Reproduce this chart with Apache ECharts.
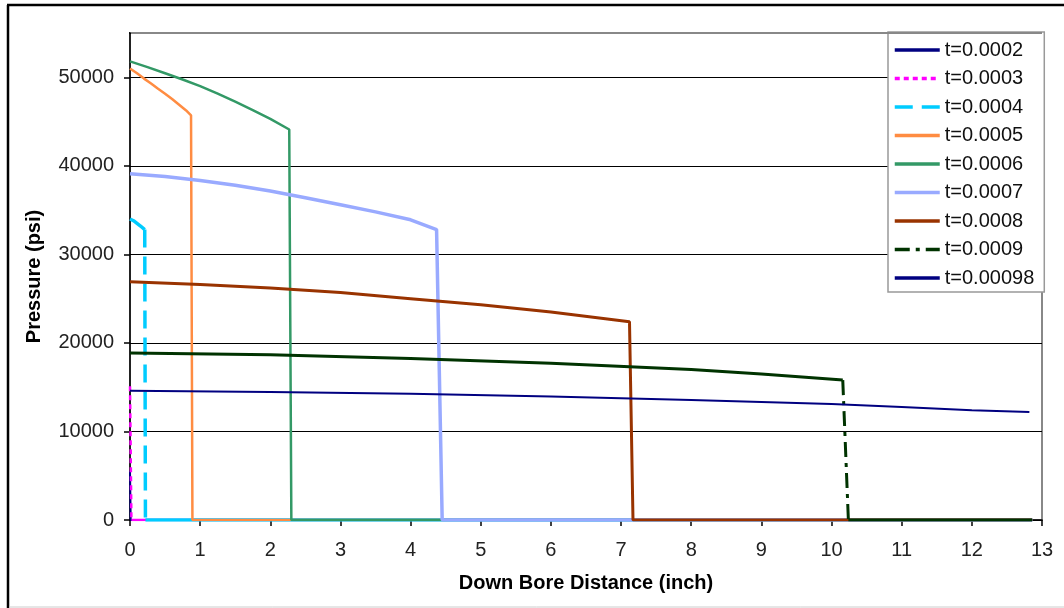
<!DOCTYPE html>
<html>
<head>
<meta charset="utf-8">
<script src="https://cdn.jsdelivr.net/npm/echarts@6/dist/echarts.min.js"></script>
<style>html,body{margin:0;padding:0;background:#fff;}#c{width:1064px;height:608px;}</style>
</head>
<body>
<div id="c"></div>
<script>
// Series names (legend labels)
const seriesNames = ['t=0.0002','t=0.0003','t=0.0004','t=0.0005','t=0.0006','t=0.0007','t=0.0008','t=0.0009','t=0.00098'];

// Each series: [distance (inch), pressure (psi)]
const t0002 = [[0,5500],[0.01,0],[12.86,0]];
const t0003 = [[0,15100],[0.02,0],[12.86,0]];
const t0004 = [[0,34000],[0.05,33800],[0.1,33500],[0.15,33200],[0.21,32800],[0.22,0],[12.86,0]];
const t0005 = [[0,51000],[0.1,50450],[0.2,49850],[0.3,49300],[0.4,48700],[0.5,48150],[0.6,47550],[0.7,46900],[0.8,46250],[0.87,45700],[0.89,0],[12.86,0]];
const t0006 = [[0,51800],[0.25,51150],[0.5,50450],[0.75,49750],[1,49000],[1.25,48150],[1.5,47250],[1.75,46300],[2,45300],[2.27,44100],[2.3,0],[12.86,0]];
const t0007 = [[0,39100],[0.5,38800],[1,38350],[1.5,37800],[2,37150],[2.5,36400],[3,35600],[3.5,34800],[4,33900],[4.37,32800],[4.45,0],[12.86,0]];
const t0008 = [[0,26900],[1,26600],[2,26200],[3,25700],[4,25000],[5,24300],[6,23500],[7.12,22400],[7.17,0],[12.86,0]];
const t0009 = [[0,18850],[2,18650],[4,18250],[6,17700],[8,17000],[9,16500],[10.16,15800],[10.24,0],[12.86,0]];
const t00098 = [[0,14600],[2,14450],[4,14250],[6,13950],[8,13550],[10,13100],[11,12750],[12,12400],[12.82,12200]];

// index of the last point before the front drop (for dashed series)
const dropIndex = {'t=0.0003':0,'t=0.0004':4,'t=0.0009':6};

const seriesData = [t0002,t0003,t0004,t0005,t0006,t0007,t0008,t0009,t00098];

// Axis ticks
const xTicks = {min:0,max:13,interval:1};
const yTicks = {min:0,max:55000,interval:10000};

const styles = [
  {color:'#000080',width:2,type:'solid'},
  {color:'#FF00FF',width:2.5,type:[5,4]},
  {color:'#00CCFF',width:3.5,type:[18,9]},
  {color:'#FF8C42',width:2.5,type:'solid'},
  {color:'#339966',width:2.5,type:'solid'},
  {color:'#99AAFF',width:3.5,type:'solid'},
  {color:'#993300',width:3,type:'solid'},
  {color:'#003300',width:3,type:[15,6,4,6]},
  {color:'#000080',width:2,type:'solid'}
];

const series = [];
seriesNames.forEach((name,i)=>{
  const d = seriesData[i];
  const st = styles[i];
  if (dropIndex[name] !== undefined) {
    const k = dropIndex[name];
    const solid = d.slice(0,k+1).concat([[null,null]]).concat(d.slice(k+1));
    series.push({
      name: name+'_solid', type:'line', data: solid, symbol:'none', connectNulls:false,
      lineStyle:{color:st.color,width:st.width,type:'solid'}, itemStyle:{color:st.color},
      emphasis:{disabled:true}, silent:true
    });
    series.push({
      name: name, type:'line', data: d.slice(k,k+2), symbol:'none',
      lineStyle:{color:st.color,width:st.width,type:st.type}, itemStyle:{color:st.color},
      emphasis:{disabled:true}
    });
  } else {
    series.push({
      name: name, type:'line', data: d, symbol:'none',
      lineStyle:{color:st.color,width:st.width,type:st.type}, itemStyle:{color:st.color},
      emphasis:{disabled:true}
    });
  }
});

const font = 'Liberation Sans, Arial, sans-serif';
const chart = echarts.init(document.getElementById('c'), null, {renderer:'canvas'});
chart.setOption({
  animation:false,
  backgroundColor:'#fff',
  grid:{left:130,top:33,right:22,bottom:88,show:true,borderColor:'#888',borderWidth:2,backgroundColor:'transparent'},
  xAxis:{
    type:'value', min:xTicks.min, max:xTicks.max, interval:xTicks.interval,
    name:'Down Bore Distance (inch)', nameLocation:'middle', nameGap:53,
    nameTextStyle:{fontFamily:font,fontSize:20,fontWeight:'bold',color:'#000'},
    axisLine:{show:true,onZero:false,lineStyle:{color:'#000',width:1.5}},
    axisTick:{show:true,inside:false,length:6,lineStyle:{color:'#000',width:1.5}},
    axisLabel:{fontFamily:font,fontSize:20,color:'#222',margin:20},
    splitLine:{show:false}
  },
  yAxis:{
    type:'value', min:yTicks.min, max:yTicks.max, interval:yTicks.interval,
    name:'Pressure (psi)', nameLocation:'middle', nameGap:86, nameRotate:90,
    nameTextStyle:{fontFamily:font,fontSize:20,fontWeight:'bold',color:'#000'},
    axisLine:{show:true,lineStyle:{color:'#000',width:1.5}},
    axisTick:{show:true,inside:false,length:6,lineStyle:{color:'#000',width:1.5}},
    axisLabel:{fontFamily:font,fontSize:20,color:'#222',margin:16,
      formatter:v=> (v>50000? '' : String(v))},
    splitLine:{show:true,lineStyle:{color:'#000',width:1}}
  },
  legend:{
    data:seriesNames, orient:'vertical', left:888, top:32,
    itemWidth:45, itemHeight:14, itemGap:8.5,
    padding:[8,10,4,5],
    backgroundColor:'#fff', borderColor:'#999', borderWidth:1.5, borderRadius:0,
    itemStyle:{opacity:0},
    lineStyle:{width:3.5},
    textStyle:{fontFamily:font,fontSize:20,color:'#111',lineHeight:20},
    selectedMode:false
  },
  graphic:[
    {type:'line',z:100,shape:{x1:131,y1:33,x2:1042,y2:33},style:{stroke:'#888',lineWidth:2},silent:true},
    {type:'line',z:100,shape:{x1:120,y1:33,x2:129,y2:33},style:{stroke:'#fff',lineWidth:3},silent:true},
    {type:'line',shape:{x1:7,y1:5,x2:1064,y2:5},style:{stroke:'#000',lineWidth:2.5},silent:true},
    {type:'line',shape:{x1:8,y1:5,x2:8,y2:608},style:{stroke:'#000',lineWidth:2.5},silent:true},
    {type:'line',shape:{x1:9,y1:607,x2:1064,y2:607},style:{stroke:'#ccc',lineWidth:1},silent:true}
  ],
  series:series
});
</script>
</body>
</html>
